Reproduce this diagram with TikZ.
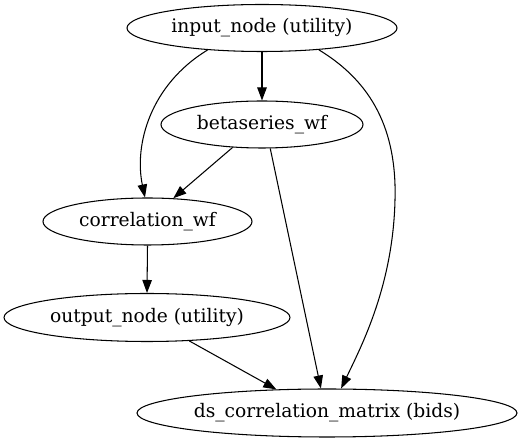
\documentclass[tikz,border=0pt]{standalone}
\usepackage{fontspec}
\setmainfont{DejaVu Serif}
\usetikzlibrary{arrows.meta,shapes.geometric}
\begin{document}
\begin{tikzpicture}[x=1pt,y=-1pt,
  gnode/.style={ellipse, draw, line width=1.05pt, inner sep=0pt, font=\fontsize{18.67}{22}\selectfont},
  edge/.style={line width=1.05pt, -{Triangle[length=13pt,width=9.5pt]}}]
\useasboundingbox (0,0) rectangle (523,443);
\node[gnode, minimum width=270pt, minimum height=47pt] (in) at (262,28) {input\_node (utility)};
\node[gnode, minimum width=202pt, minimum height=47pt] (bw) at (262,124.5) {betaseries\_wf};
\node[gnode, minimum width=209pt, minimum height=47pt] (cw) at (147.5,221.5) {correlation\_wf};
\node[gnode, minimum width=286pt, minimum height=48pt] (ow) at (147,317.5) {output\_node (utility)};
\node[gnode, minimum width=380pt, minimum height=48pt] (ds) at (327,413) {ds\_correlation\_matrix (bids)};
\draw[edge] (in.south) -- (bw.north);
\draw[edge] (in.202) .. controls (150,85) and (134,145) .. (cw.96);
\draw[edge] (bw.218) -- (cw.42);
\draw[edge] (bw.289) -- (ds.104);
\draw[edge] (cw.south) -- (ow.north);
\draw[edge] (ow.331) -- (ds.155);
\draw[edge] (in.339) .. controls (372,82) and (397,130) .. (395,200) .. controls (393,285) and (362,345) .. (ds.60);
\end{tikzpicture}
\end{document}
